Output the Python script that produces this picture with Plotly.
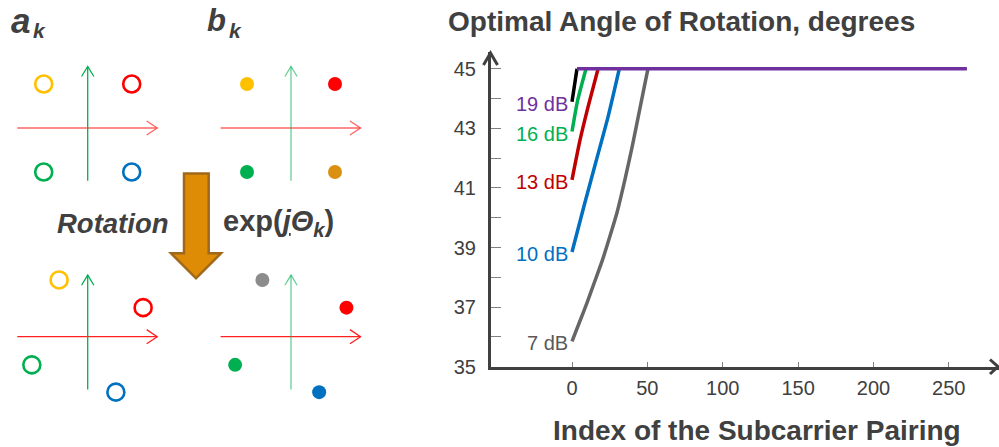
import plotly.graph_objects as go

W, H = 999, 447          # reference picture size (layout is designed in these pixels)
HF = 458                 # figure height actually drawn (the capture squeezes it to 447)
FONT = "Arial, Liberation Sans, sans-serif"
DARK = "#404040"


def px(x):
    return x / W


def py(y):
    return 1 - y / H


# ---------------- main chart data ----------------
idx_7 = [0, 5, 10, 15, 20, 25, 30, 35, 40, 45, 50.4]
deg_7 = [35.85, 36.5, 37.15, 37.85, 38.55, 39.35, 40.2, 41.25, 42.4, 43.65, 45]
idx_10 = [0, 8, 16, 24, 31.4]
deg_10 = [38.85, 40.4, 41.9, 43.4, 45]
idx_13 = [0, 5.3, 10.6, 17.3]
deg_13 = [41.27, 42.6, 43.71, 45]
idx_16 = [0, 3.8, 9.3]
deg_16 = [42.89, 43.95, 45]
idx_19 = [0, 3.3]
deg_19 = [43.89, 45]
idx_flat = [3.3, 262]
deg_flat = [45, 45]

snr_labels = ["7 dB", "10 dB", "13 dB", "16 dB", "19 dB"]
line_colors = ["#666666", "#0070C0", "#C00000", "#00B050", "#000000"]
label_colors = ["#595959", "#0070C0", "#C00000", "#00B050", "#7030A0"]
flat_color = "#7030A0"

x_ticks = [0, 50, 100, 150, 200, 250]
y_ticks = [35, 36, 37, 38, 39, 40, 41, 42, 43, 44, 45]
y_ticktext = ["35", " ", "37", " ", "39", " ", "41", " ", "43", " ", "45"]

# ---------------- constellation diagram data ----------------
a_I = [-1, 1, -1, 1]
a_Q = [1, 1, -1, -1]
a_colors = ["#FFC000", "#FF0000", "#00B050", "#0070C0"]
b_colors = ["#FFC000", "#FF0000", "#00B050", "#DA9010"]
rot_I = [-0.65, 1.26, -1.27, 0.64]
rot_Q = [1.29, 0.66, -0.64, -1.26]
rot_a_colors = ["#FFC000", "#FF0000", "#00B050", "#0070C0"]
rot_b_colors = ["#8C8C8C", "#FF0000", "#00B050", "#0070C0"]

fig = go.Figure()

series = [(idx_7, deg_7), (idx_10, deg_10), (idx_13, deg_13), (idx_16, deg_16), (idx_19, deg_19)]
for (xs, ys), c in zip(series, line_colors):
    fig.add_trace(go.Scatter(x=xs, y=ys, mode="lines", line=dict(color=c, width=3.5, shape="spline", smoothing=0.6),
                             showlegend=False, hoverinfo="skip", xaxis="x", yaxis="y"))
fig.add_trace(go.Scatter(x=idx_flat, y=deg_flat, mode="lines", line=dict(color=flat_color, width=3.5),
                         showlegend=False, hoverinfo="skip", xaxis="x", yaxis="y"))

annotations = []
for (xs, ys), lab, c in zip(series, snr_labels, label_colors):
    annotations.append(dict(x=xs[0], y=ys[0], xref="x", yref="y", text=lab, showarrow=False,
                            xanchor="right", yanchor="middle", xshift=-2, yshift=-2,
                            font=dict(family=FONT, size=20, color=c)))

# ---------------- panels ----------------
SCALE = 44.0
HALF = 80.0
panels = [
    (87.7, 128.0, a_I, a_Q, a_colors, True, "rgba(255,60,60,0.8)", "#00B050"),
    (291.0, 128.0, a_I, a_Q, b_colors, False, "rgba(255,60,60,0.8)", "rgba(0,176,80,0.6)"),
    (87.7, 336.7, rot_I, rot_Q, rot_a_colors, True, "#FF2020", "#00B050"),
    (291.0, 336.7, rot_I, rot_Q, rot_b_colors, False, "#FF2020", "rgba(0,176,80,0.6)"),
]

layout_axes = {}
shapes = []
R = HALF / SCALE
for i, (cx, cy, xs, ys, cols, hollow, hcol, vcol) in enumerate(panels):
    n = i + 2
    xa, ya = f"x{n}", f"y{n}"
    layout_axes[f"xaxis{n}"] = dict(domain=[px(cx - HALF), px(cx + HALF)], range=[-R, R], visible=False,
                                    anchor=ya, fixedrange=True)
    layout_axes[f"yaxis{n}"] = dict(domain=[py(cy + HALF), py(cy - HALF)], range=[-R, R], visible=False,
                                    anchor=xa, fixedrange=True)
    shapes.append(dict(type="line", xref=xa, yref=ya, x0=-1.6, y0=0, x1=1.58, y1=0,
                       line=dict(color=hcol, width=1.3)))
    shapes.append(dict(type="path", xref=xa, yref=ya, path="M 1.34 0.16 L 1.58 0 L 1.34 -0.16",
                       line=dict(color=hcol, width=1.3)))
    shapes.append(dict(type="line", xref=xa, yref=ya, x0=0, y0=-1.2, x1=0, y1=1.4,
                       line=dict(color=vcol, width=1.3)))
    shapes.append(dict(type="path", xref=xa, yref=ya, path="M -0.14 1.17 L 0 1.4 L 0.14 1.17",
                       line=dict(color=vcol, width=1.3)))
    if hollow:
        marker = dict(symbol="circle-open", size=17, color=cols, line=dict(width=2.6))
    else:
        marker = dict(symbol="circle", size=14, color=cols, line=dict(width=0))
    fig.add_trace(go.Scatter(x=xs, y=ys, mode="markers", marker=marker, xaxis=xa, yaxis=ya,
                             showlegend=False, hoverinfo="skip"))


def P(x, y):
    return f"{px(x):.5f} {py(y):.5f}"


arrow_path = ("M " + P(184, 173.5) + " L " + P(208.7, 173.5) + " L " + P(208.7, 253.3) + " L " + P(221, 253.3)
              + " L " + P(196, 278.3) + " L " + P(171, 253.3) + " L " + P(184, 253.3) + " Z")
shapes.append(dict(type="path", xref="paper", yref="paper", path=arrow_path,
                   fillcolor="#DE8C06", line=dict(color="#A0681A", width=2.5)))

shapes.append(dict(type="path", xref="paper", yref="paper",
                   path="M " + P(483.5, 65) + " L " + P(490.5, 53) + " L " + P(497.5, 65),
                   line=dict(color=DARK, width=3)))
shapes.append(dict(type="path", xref="paper", yref="paper",
                   path="M " + P(990, 359.5) + " L " + P(998, 366.7) + " L " + P(990, 374),
                   line=dict(color=DARK, width=3)))


def txt(x, y, text, size, xanchor="left", color=DARK):
    return dict(x=px(x), y=py(y), xref="paper", yref="paper", text=text, showarrow=False,
                xanchor=xanchor, yanchor="middle", font=dict(family=FONT, size=size, color=color))


annotations += [
    txt(9, 20, "<b><i>a</i></b>", 35),
    txt(31, 30, "<b><i>k</i></b>", 21),
    txt(205, 20, "<b><i>b</i></b>", 31),
    txt(227, 30, "<b><i>k</i></b>", 21),
    txt(112.5, 223, "<b><i>Rotation</i></b>", 27.5, "center"),
    txt(221, 223, "<b>exp(<i><u>j</u>Θ</i><sub><i>k</i></sub>)</b>", 29),
    txt(446, 22, "<b>Optimal Angle of Rotation, degrees</b>", 28),
    txt(757, 430, "<b>Index of the Subcarrier Pairing</b>", 28, "center"),
]

fig.update_layout(
    width=W, height=HF, margin=dict(l=0, r=0, t=0, b=0),
    paper_bgcolor="white", plot_bgcolor="white",
    showlegend=False,
    xaxis=dict(domain=[px(491), 1.0], range=[-53.75, 283.3], tickvals=x_ticks, ticks="inside", ticklen=5,
               tickcolor="#808080", tickwidth=1, showline=True, linecolor=DARK, linewidth=3,
               showgrid=False, zeroline=False, tickfont=dict(family=FONT, size=20, color=DARK),
               ticklabelstandoff=1, anchor="y", fixedrange=True),
    yaxis=dict(domain=[py(366.7), py(52)], range=[35, 45.56], tickvals=y_ticks, ticktext=y_ticktext,
               ticks="inside", ticklen=10, tickcolor="#808080", tickwidth=1, showline=True, linecolor=DARK,
               linewidth=3, showgrid=False, zeroline=False, tickfont=dict(family=FONT, size=20, color=DARK),
               ticklabelstandoff=8, anchor="x", fixedrange=True),
    shapes=shapes,
    annotations=annotations,
    **layout_axes,
)

css = f"margin:0;padding:0;overflow:hidden;width:{W}px;height:{HF}px;"
fig.write_html("out.html", config={"responsive": False, "displayModeBar": False},
               post_script=("document.documentElement.style.cssText='" + css + "';"
                            "document.body.style.cssText='" + css + "';"))
